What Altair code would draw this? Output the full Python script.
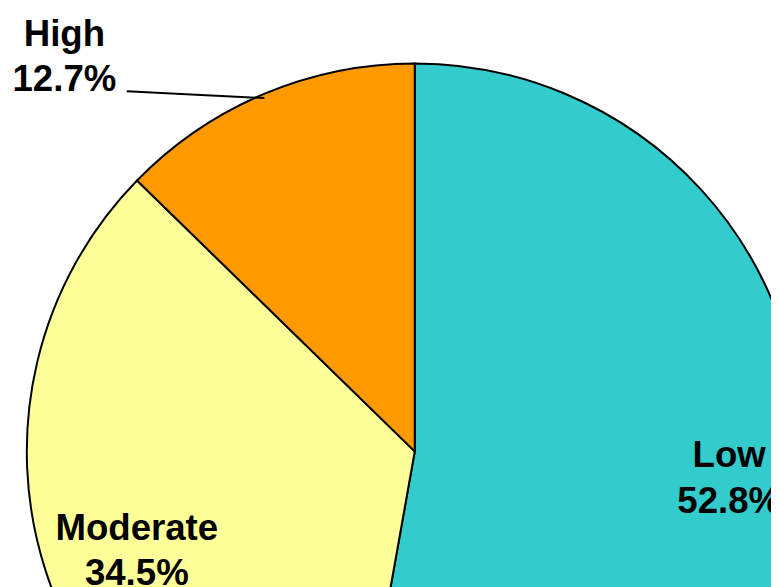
import altair as alt
import pandas as pd

categories = ["Low", "Moderate", "High"]
values = [52.8, 34.5, 12.7]
colors = ["#33CCCC", "#FFFF99", "#FF9900"]
order = [1, 2, 3]

df = pd.DataFrame({"category": categories, "value": values, "ord": order})

CX, CY, R = 411, 445, 392
FS = 37

base = alt.Chart(df).encode(
    theta=alt.Theta("value:Q", stack=True),
    order=alt.Order("ord:Q"),
)

pie = base.mark_arc(radius=R, stroke="black", strokeWidth=2).encode(
    color=alt.Color("category:N", scale=alt.Scale(domain=categories, range=colors), legend=None),
    x=alt.value(CX),
    y=alt.value(CY),
)

def inner_label(cat, rad, dy):
    return base.transform_calculate(
        lab=f"datum.category == '{cat}' ? datum.category + '\\n' + format(datum.value, '.1f') + '%' : ''"
    ).mark_text(
        radius=rad, font="Liberation Sans", fontWeight="bold", fontSize=FS,
        lineBreak="\n", lineHeight=46, color="black", align="center", baseline="middle", dy=dy
    ).encode(
        text="lab:N",
        x=alt.value(CX),
        y=alt.value(CY),
    )

low_lab = inner_label("Low", 319, -23)
mod_lab = inner_label("Moderate", 295, -12)

outer = alt.Chart(df).transform_filter(
    "datum.category == 'High'"
).transform_calculate(
    lab="datum.category + '\\n' + format(datum.value, '.1f') + '%'"
).mark_text(
    font="Liberation Sans", fontWeight="bold", fontSize=FS,
    lineBreak="\n", lineHeight=46, color="black", align="center", baseline="middle"
).encode(
    text="lab:N",
    x=alt.value(57),
    y=alt.value(24),
)

leader = alt.Chart(df).transform_filter("datum.category == 'High'").mark_rule(
    color="black", strokeWidth=2
).encode(
    x=alt.value(120), y=alt.value(81), x2=alt.value(259), y2=alt.value(88)
)

chart = alt.layer(pie, low_lab, mod_lab, outer, leader).properties(
    width=771, height=579, autosize=alt.AutoSizeParams(type="none"), padding=0
).configure_view(stroke=None)

chart.save("out.html", embed_options={"renderer": "svg", "actions": False})
